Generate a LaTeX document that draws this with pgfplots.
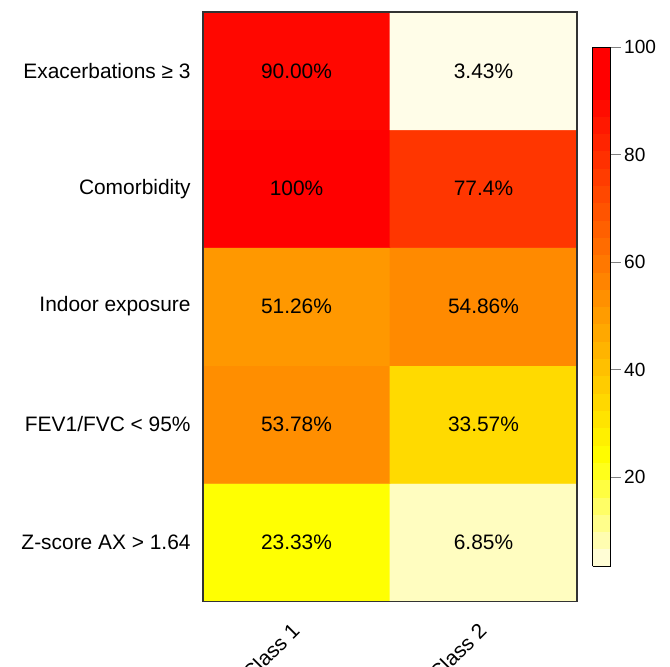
\documentclass[border=0pt]{standalone}
\usepackage{fontspec}
\setmainfont{Liberation Sans}
\usepackage{pgfplots}
\pgfplotsset{compat=1.18}

\begin{document}
\begin{tikzpicture}
  \begin{axis}[
      name=main,
      width=205.7pt, height=324pt,
      scale only axis,
      axis on top,
      xmin=-0.5, xmax=1.5,
      ymin=-0.5, ymax=4.5,
      enlargelimits=false,
      xtick={0,1},
      xticklabels={Class 1, Class 2},
      ytick={0,1,2,3,4},
      yticklabels={Z-score AX > 1.64, FEV1/FVC < 95\%, Indoor exposure, Comorbidity, Exacerbations ≥ 3},
      major tick length=0pt,
      ticklabel style={font=\fontsize{11.5}{13}\selectfont},
      yticklabel style={xshift=-3.3pt},
      xticklabel style={rotate=45, anchor=north east, xshift=-7pt, yshift=-2pt},
      axis line style={black!80, line width=0.6pt},
      colormap={heatR}{rgb255(0cm)=(255,253,232); rgb255(20.07cm)=(255,255,0); rgb255(88.57cm)=(255,0,0); rgb255(96.57cm)=(255,0,0)},
      point meta min=3.43, point meta max=100,
      colorbar sampled,
      colorbar style={
        samples=31,
        at={([xshift=6pt]main.east)}, anchor=west,
        width=9.9pt, height=285.5pt,
        ytick={20,40,60,80,100},
        ytick pos=right, yticklabel pos=right,
        tick align=outside,
        major tick length=5.5pt,
        axis on top,
        axis line style={black, line width=0.5pt},
        /pgf/number format/assume math mode=true,
        yticklabel style={font=\fontsize{10.5}{12}\selectfont, xshift=-1.5pt},
      },
    ]

    % percentages per cell, rows bottom to top
    \addplot[matrix plot*, mesh/cols=2, mesh/rows=5, point meta=explicit] table[meta=v] {
      x y v
      0 0 23.33
      1 0 6.85
      0 1 53.78
      1 1 33.57
      0 2 51.26
      1 2 54.86
      0 3 100
      1 3 77.4
      0 4 90
      1 4 3.43
    };

    \addplot[only marks, mark=none, nodes near coords, point meta=explicit symbolic,
      nodes near coords style={anchor=center, font=\fontsize{11.5}{13}\selectfont, text=black}]
      table[meta=lab] {
      x y lab
      0 0 23.33\%
      1 0 6.85\%
      0 1 53.78\%
      1 1 33.57\%
      0 2 51.26\%
      1 2 54.86\%
      0 3 100\%
      1 3 77.4\%
      0 4 90.00\%
      1 4 3.43\%
    };
  \end{axis}
  \pgfresetboundingbox
  \path[use as bounding box] ([xshift=-111.65pt,yshift=-35.75pt]main.south west) rectangle ([xshift=51.15pt,yshift=6.6pt]main.north east);
\end{tikzpicture}
\end{document}
